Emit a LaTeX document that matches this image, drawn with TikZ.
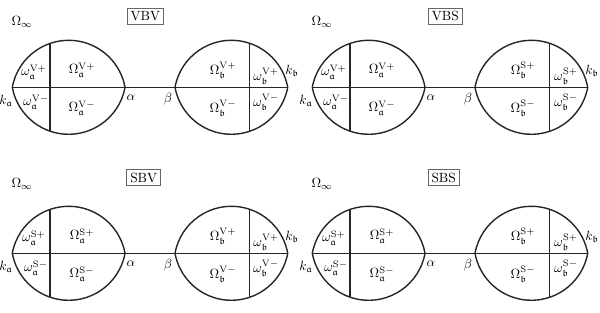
\documentclass[tikz,border=0pt]{standalone}
\usepackage{amssymb}
\begin{document}
\begin{tikzpicture}[x=0.75pt,y=0.75pt]
\tikzset{
    lensLine/.style={line width=1.05pt,draw=black!85},
    lensLab/.style={inner sep=0pt},
    caseBox/.style={draw=black!60,line width=0.5pt,inner sep=2.6pt},
}
\useasboundingbox (0,0) rectangle (600,313);

% VBV
\begin{scope}[shift={(12.3,225.7)}]
\coordinate (vbvKa) at (0,0);
\coordinate (vbvAl) at (112.7,0);
\coordinate (vbvBe) at (162.7,0);
\coordinate (vbvKb) at (275,0);
\draw[lensLine] (vbvKa) -- (vbvKb);
\draw[lensLine] (vbvKa) arc[start angle=169.64,end angle=10.36,radius=57.3] arc[start angle=349.64,end angle=190.36,radius=57.3];
\draw[lensLine] (vbvBe) arc[start angle=169.64,end angle=10.36,radius=57.3] arc[start angle=349.64,end angle=190.36,radius=57.3];
\draw[lensLine] (37.7,43.9) -- (37.7,-43.9);
\draw[lensLine] (237.3,43.9) -- (237.3,-43.9);
\node[lensLab] (vbvInf) at (9.7,65.6) {$\Omega_\infty$};
\node[caseBox] (vbvBox) at (133,71.1) {VBV};
\node[lensLab] (vbvwap) at (21.5,15.3) {$\omega_{\mathfrak a}^{\mathrm{V}+}$};
\node[lensLab] (vbvwam) at (23.7,-14.7) {$\omega_{\mathfrak a}^{\mathrm{V}-}$};
\node[lensLab] (vbvWap) at (69.7,17.3) {$\Omega_{\mathfrak a}^{\mathrm{V}+}$};
\node[lensLab] (vbvWam) at (69.7,-20.7) {$\Omega_{\mathfrak a}^{\mathrm{V}-}$};
\node[lensLab] (vbvka) at (-6.3,-13.7) {$k_{\mathfrak a}$};
\node[lensLab] (vbval) at (118.7,-10.7) {$\alpha$};
\node[lensLab] (vbvbe) at (155.7,-11.7) {$\beta$};
\node[lensLab] (vbvWbp) at (210.7,17.3) {$\Omega_{\mathfrak b}^{\mathrm{V}+}$};
\node[lensLab] (vbvWbm) at (210.7,-20.7) {$\Omega_{\mathfrak b}^{\mathrm{V}-}$};
\node[lensLab] (vbvwbp) at (253.7,11.3) {$\omega_{\mathfrak b}^{\mathrm{V}+}$};
\node[lensLab] (vbvwbm) at (253.7,-14.7) {$\omega_{\mathfrak b}^{\mathrm{V}-}$};
\node[lensLab] (vbvkb) at (279.7,16.3) {$k_{\mathfrak b}$};
\end{scope}

% VBS
\begin{scope}[shift={(312.3,225.7)}]
\coordinate (vbsKa) at (0,0);
\coordinate (vbsAl) at (112.7,0);
\coordinate (vbsBe) at (162.7,0);
\coordinate (vbsKb) at (275,0);
\draw[lensLine] (vbsKa) -- (vbsKb);
\draw[lensLine] (vbsKa) arc[start angle=169.64,end angle=10.36,radius=57.3] arc[start angle=349.64,end angle=190.36,radius=57.3];
\draw[lensLine] (vbsBe) arc[start angle=169.64,end angle=10.36,radius=57.3] arc[start angle=349.64,end angle=190.36,radius=57.3];
\draw[lensLine] (37.7,43.9) -- (37.7,-43.9);
\draw[lensLine] (237.3,43.9) -- (237.3,-43.9);
\node[lensLab] (vbsInf) at (9.7,65.6) {$\Omega_\infty$};
\node[caseBox] (vbsBox) at (133,71.1) {VBS};
\node[lensLab] (vbswap) at (21.5,15.3) {$\omega_{\mathfrak a}^{\mathrm{V}+}$};
\node[lensLab] (vbswam) at (23.7,-14.7) {$\omega_{\mathfrak a}^{\mathrm{V}-}$};
\node[lensLab] (vbsWap) at (69.7,17.3) {$\Omega_{\mathfrak a}^{\mathrm{V}+}$};
\node[lensLab] (vbsWam) at (69.7,-20.7) {$\Omega_{\mathfrak a}^{\mathrm{V}-}$};
\node[lensLab] (vbska) at (-6.3,-13.7) {$k_{\mathfrak a}$};
\node[lensLab] (vbsal) at (118.7,-10.7) {$\alpha$};
\node[lensLab] (vbsbe) at (155.7,-11.7) {$\beta$};
\node[lensLab] (vbsWbp) at (210.7,17.3) {$\Omega_{\mathfrak b}^{\mathrm{S}+}$};
\node[lensLab] (vbsWbm) at (210.7,-20.7) {$\Omega_{\mathfrak b}^{\mathrm{S}-}$};
\node[lensLab] (vbswbp) at (253.7,11.3) {$\omega_{\mathfrak b}^{\mathrm{S}+}$};
\node[lensLab] (vbswbm) at (253.7,-14.7) {$\omega_{\mathfrak b}^{\mathrm{S}-}$};
\node[lensLab] (vbskb) at (279.7,16.3) {$k_{\mathfrak b}$};
\end{scope}

% SBV
\begin{scope}[shift={(12.3,59.7)}]
\coordinate (sbvKa) at (0,0);
\coordinate (sbvAl) at (112.7,0);
\coordinate (sbvBe) at (162.7,0);
\coordinate (sbvKb) at (275,0);
\draw[lensLine] (sbvKa) -- (sbvKb);
\draw[lensLine] (sbvKa) arc[start angle=169.64,end angle=10.36,radius=57.3] arc[start angle=349.64,end angle=190.36,radius=57.3];
\draw[lensLine] (sbvBe) arc[start angle=169.64,end angle=10.36,radius=57.3] arc[start angle=349.64,end angle=190.36,radius=57.3];
\draw[lensLine] (37.7,43.9) -- (37.7,-43.9);
\draw[lensLine] (237.3,43.9) -- (237.3,-43.9);
\node[lensLab] (sbvInf) at (9.7,69.3) {$\Omega_\infty$};
\node[caseBox] (sbvBox) at (131.4,75.8) {SBV};
\node[lensLab] (sbvwap) at (21.5,15.3) {$\omega_{\mathfrak a}^{\mathrm{S}+}$};
\node[lensLab] (sbvwam) at (23.7,-14.7) {$\omega_{\mathfrak a}^{\mathrm{S}-}$};
\node[lensLab] (sbvWap) at (69.7,17.3) {$\Omega_{\mathfrak a}^{\mathrm{S}+}$};
\node[lensLab] (sbvWam) at (69.7,-20.7) {$\Omega_{\mathfrak a}^{\mathrm{S}-}$};
\node[lensLab] (sbvka) at (-6.3,-13.7) {$k_{\mathfrak a}$};
\node[lensLab] (sbval) at (118.7,-10.7) {$\alpha$};
\node[lensLab] (sbvbe) at (155.7,-11.7) {$\beta$};
\node[lensLab] (sbvWbp) at (210.7,17.3) {$\Omega_{\mathfrak b}^{\mathrm{V}+}$};
\node[lensLab] (sbvWbm) at (210.7,-20.7) {$\Omega_{\mathfrak b}^{\mathrm{V}-}$};
\node[lensLab] (sbvwbp) at (253.7,11.3) {$\omega_{\mathfrak b}^{\mathrm{V}+}$};
\node[lensLab] (sbvwbm) at (253.7,-14.7) {$\omega_{\mathfrak b}^{\mathrm{V}-}$};
\node[lensLab] (sbvkb) at (279.7,16.3) {$k_{\mathfrak b}$};
\end{scope}

% SBS
\begin{scope}[shift={(312.3,59.7)}]
\coordinate (sbsKa) at (0,0);
\coordinate (sbsAl) at (112.7,0);
\coordinate (sbsBe) at (162.7,0);
\coordinate (sbsKb) at (275,0);
\draw[lensLine] (sbsKa) -- (sbsKb);
\draw[lensLine] (sbsKa) arc[start angle=169.64,end angle=10.36,radius=57.3] arc[start angle=349.64,end angle=190.36,radius=57.3];
\draw[lensLine] (sbsBe) arc[start angle=169.64,end angle=10.36,radius=57.3] arc[start angle=349.64,end angle=190.36,radius=57.3];
\draw[lensLine] (37.7,43.9) -- (37.7,-43.9);
\draw[lensLine] (237.3,43.9) -- (237.3,-43.9);
\node[lensLab] (sbsInf) at (9.7,69.3) {$\Omega_\infty$};
\node[caseBox] (sbsBox) at (131.4,75.8) {SBS};
\node[lensLab] (sbswap) at (21.5,15.3) {$\omega_{\mathfrak a}^{\mathrm{S}+}$};
\node[lensLab] (sbswam) at (23.7,-14.7) {$\omega_{\mathfrak a}^{\mathrm{S}-}$};
\node[lensLab] (sbsWap) at (69.7,17.3) {$\Omega_{\mathfrak a}^{\mathrm{S}+}$};
\node[lensLab] (sbsWam) at (69.7,-20.7) {$\Omega_{\mathfrak a}^{\mathrm{S}-}$};
\node[lensLab] (sbska) at (-6.3,-13.7) {$k_{\mathfrak a}$};
\node[lensLab] (sbsal) at (118.7,-10.7) {$\alpha$};
\node[lensLab] (sbsbe) at (155.7,-11.7) {$\beta$};
\node[lensLab] (sbsWbp) at (210.7,17.3) {$\Omega_{\mathfrak b}^{\mathrm{S}+}$};
\node[lensLab] (sbsWbm) at (210.7,-20.7) {$\Omega_{\mathfrak b}^{\mathrm{S}-}$};
\node[lensLab] (sbswbp) at (253.7,11.3) {$\omega_{\mathfrak b}^{\mathrm{S}+}$};
\node[lensLab] (sbswbm) at (253.7,-14.7) {$\omega_{\mathfrak b}^{\mathrm{S}-}$};
\node[lensLab] (sbskb) at (279.7,16.3) {$k_{\mathfrak b}$};
\end{scope}
\end{tikzpicture}
\end{document}
